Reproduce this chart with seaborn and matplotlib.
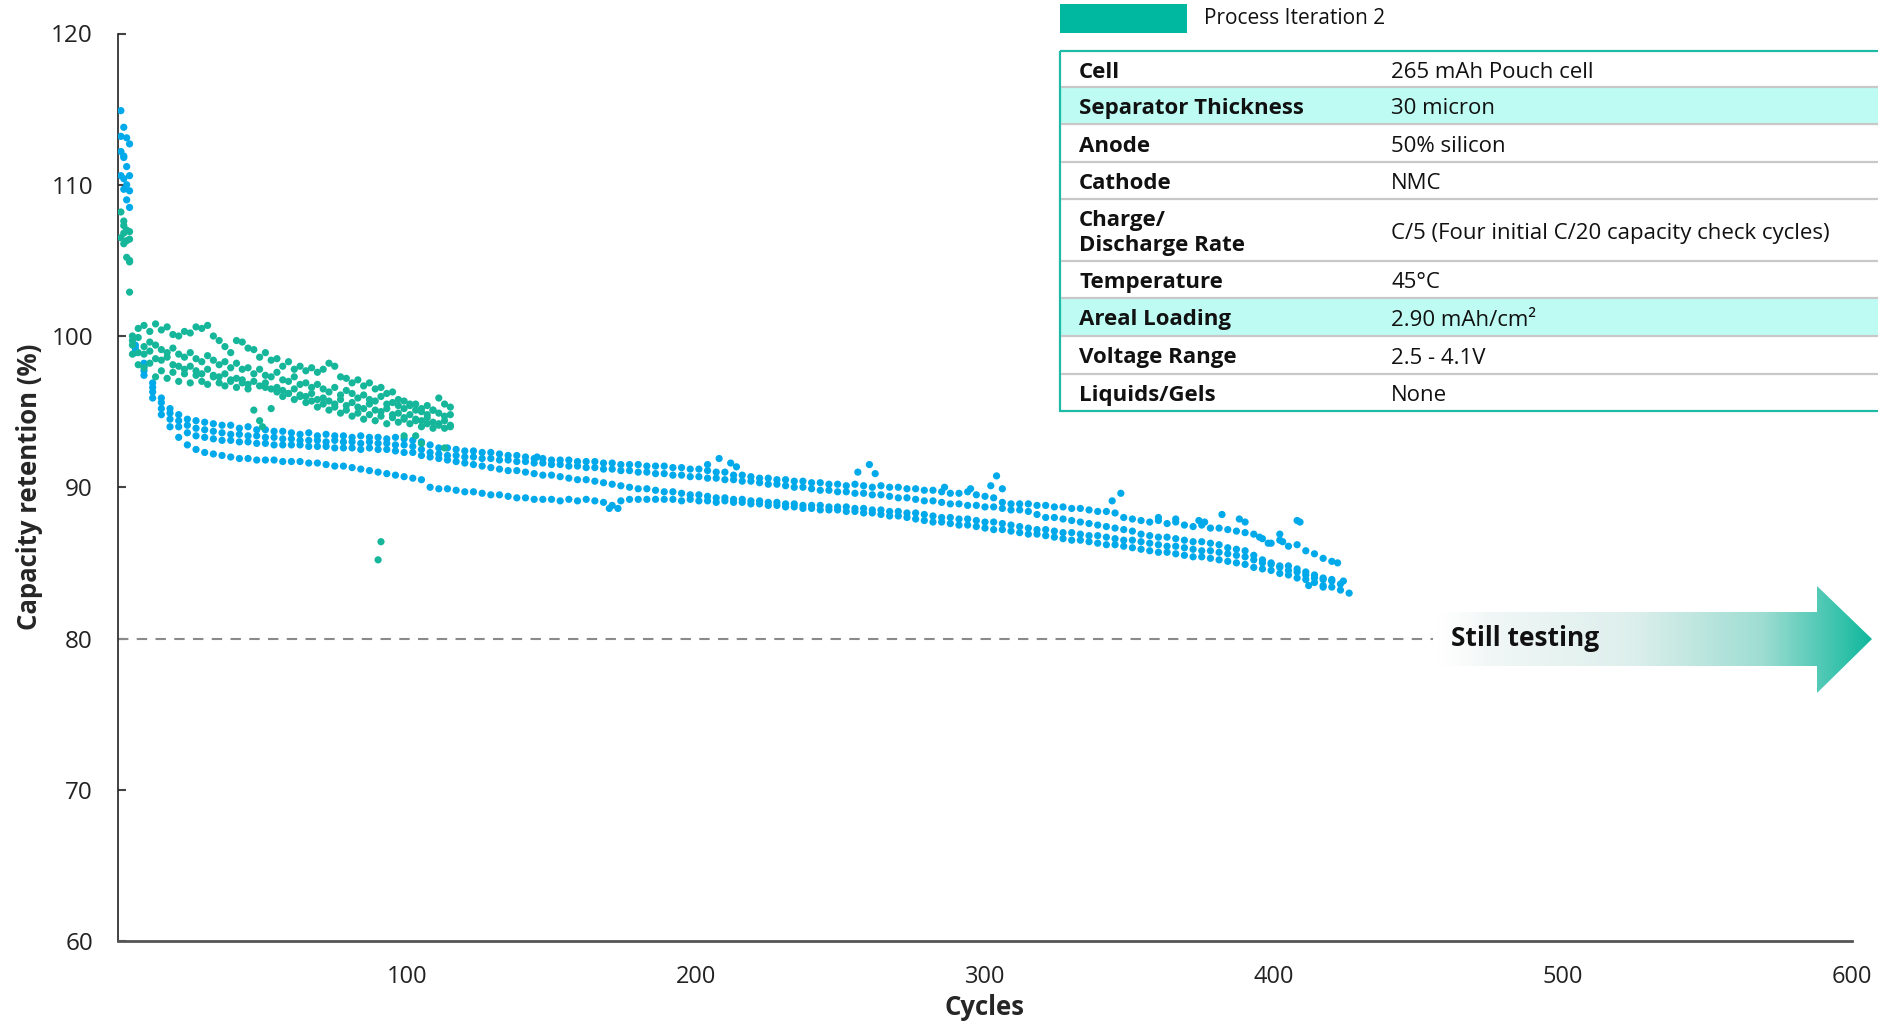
import numpy as np
import pandas as pd
import matplotlib
matplotlib.use("Agg")
import matplotlib.pyplot as plt
import seaborn as sns
from matplotlib.patches import Polygon, Rectangle
from matplotlib.colors import LinearSegmentedColormap

## colours
BLUE = '#00A9EA'
GREEN = '#16B69B'
TEAL = '#00B8A0'

## formation cycles (C/20 capacity checks)
blue_form_cycle = [1, 2, 1, 3, 4, 1, 2, 2, 3, 1, 2, 4, 3, 2, 4, 3, 4]
blue_form_value = [114.9, 113.8, 113.2, 113.1, 112.7, 112.2, 111.9, 111.8, 111.2,
                   110.6, 110.4, 110.6, 110.0, 109.7, 109.6, 109.0, 108.5]
green_form_cycle = [1, 2, 1, 2, 2, 3, 4, 2, 3, 4, 3, 4, 4, 4]
green_form_value = [108.2, 107.6, 106.5, 107.3, 106.8, 107.0, 106.9, 106.1, 106.3,
                    106.4, 105.2, 105.0, 104.9, 102.9]

## blue cells, read every 3 cycles starting at cycle 6
blue_a = [99.4, 98.2, 96.9, 95.9, 95.2, 94.8, 94.5, 94.4, 94.3,
          94.2, 94.1, 94.1, 93.9, 94.0, 93.8, 93.8, 93.7, 93.7, 93.6,
          93.5, 93.6, 93.4, 93.5, 93.4, 93.4, 93.3, 93.4, 93.3, 93.3,
          93.2, 93.3, 93.2, 93.1, 93.0, 92.8, 92.6, 92.6, 92.5, 92.4,
          92.4, 92.3, 92.3, 92.2, 92.1, 92.1, 92.0, 91.9, 91.9, 91.8,
          91.8, 91.8, 91.7, 91.7, 91.7, 91.6, 91.6, 91.5, 91.5, 91.5,
          91.4, 91.4, 91.4, 91.3, 91.3, 91.2, 91.2, 91.1, 91.0, 91.0,
          90.8, 90.8, 90.7, 90.6, 90.6, 90.5, 90.5, 90.4, 90.4, 90.3,
          90.3, 90.2, 90.2, 90.1, 90.2, 90.1, 90.0, 90.1, 90.0, 90.0,
          89.9, 89.9, 89.8, 89.8, 89.7, 89.6, 89.6, 89.7, 89.5, 89.4,
          89.3, 89.0, 88.9, 88.9, 88.9, 88.8, 88.8, 88.7, 88.7, 88.6,
          88.6, 88.5, 88.4, 88.4, 88.3, 88.0, 87.9, 87.8, 87.7, 87.8,
          87.6, 87.7, 87.5, 87.4, 87.5, 87.3, 87.3, 87.2, 87.1, 87.0,
          86.9, 86.6, 86.3, 86.5, 86.1, 86.2, 85.8, 85.6, 85.3]
blue_b = [99.2, 98.0, 96.6, 95.6, 94.9, 94.4, 94.1, 93.9, 93.8,
          93.7, 93.6, 93.5, 93.5, 93.4, 93.4, 93.3, 93.3, 93.2, 93.2,
          93.1, 93.1, 93.1, 93.0, 93.1, 93.0, 93.0, 92.9, 93.0, 92.9,
          92.9, 92.8, 92.8, 92.7, 92.5, 92.3, 92.2, 92.1, 92.1, 92.0,
          92.0, 91.9, 91.9, 91.8, 91.8, 91.7, 91.7, 91.6, 91.6, 91.5,
          91.5, 91.4, 91.4, 91.3, 91.3, 91.2, 91.2, 91.1, 91.1, 91.0,
          91.0, 90.9, 90.9, 90.8, 90.8, 90.7, 90.7, 90.6, 90.6, 90.5,
          90.5, 90.4, 90.4, 90.3, 90.2, 90.2, 90.1, 90.0, 90.0, 89.9,
          89.8, 89.8, 89.7, 89.7, 89.6, 89.6, 89.5, 89.5, 89.4, 89.3,
          89.3, 89.2, 89.1, 89.1, 89.0, 88.9, 88.9, 88.8, 88.8, 88.7,
          88.7, 88.6, 88.5, 88.5, 88.4, 88.2, 88.0, 88.0, 87.9, 87.8,
          87.7, 87.6, 87.5, 87.4, 87.3, 87.2, 87.1, 86.9, 86.8, 86.7,
          86.7, 86.6, 86.5, 86.4, 86.4, 86.3, 86.2, 86.0, 85.9, 85.8,
          85.5, 85.2, 85.0, 84.8, 84.8, 84.6, 84.4, 84.2, 84.0, 83.9]
blue_c = [99.0, 97.7, 96.3, 95.2, 94.5, 94.0, 93.6, 93.4, 93.3,
          93.2, 93.1, 93.1, 93.0, 93.0, 92.9, 92.9, 92.8, 92.8, 92.8,
          92.8, 92.7, 92.7, 92.7, 92.6, 92.6, 92.6, 92.5, 92.6, 92.5,
          92.5, 92.4, 92.3, 92.3, 92.1, 92.0, 91.9, 91.8, 91.7, 91.6,
          91.5, 91.4, 91.3, 91.2, 91.1, 91.1, 91.0, 90.9, 90.8, 90.8,
          90.7, 90.6, 90.5, 90.5, 90.4, 90.3, 90.2, 90.1, 90.0, 89.9,
          89.9, 89.8, 89.7, 89.7, 89.6, 89.5, 89.5, 89.4, 89.3, 89.3,
          89.2, 89.2, 89.1, 89.1, 89.0, 89.0, 88.9, 88.9, 88.8, 88.8,
          88.8, 88.7, 88.7, 88.7, 88.6, 88.6, 88.5, 88.5, 88.4, 88.4,
          88.3, 88.3, 88.2, 88.1, 88.0, 88.0, 87.9, 87.9, 87.8, 87.7,
          87.7, 87.6, 87.5, 87.4, 87.3, 87.2, 87.2, 87.1, 87.0, 87.0,
          86.9, 86.8, 86.8, 86.7, 86.6, 86.5, 86.5, 86.4, 86.3, 86.2,
          86.1, 86.1, 86.0, 85.9, 85.8, 85.8, 85.7, 85.6, 85.5, 85.4,
          85.2, 85.0, 84.9, 84.7, 84.5, 84.4, 84.2, 84.0, 83.9, 83.8, 83.6]
blue_d = [98.9, 97.4, 95.9, 94.8, 94.0, 93.3, 92.8, 92.5, 92.3,
          92.2, 92.1, 92.0, 91.9, 91.9, 91.8, 91.8, 91.8, 91.7, 91.7,
          91.7, 91.6, 91.6, 91.5, 91.4, 91.4, 91.3, 91.2, 91.1, 91.0,
          90.9, 90.8, 90.7, 90.6, 90.5, 90.0, 89.9, 89.9, 89.8, 89.7,
          89.7, 89.6, 89.5, 89.5, 89.4, 89.3, 89.3, 89.2, 89.2, 89.2,
          89.1, 89.2, 89.1, 89.2, 89.1, 89.0, 88.8, 89.1, 89.2, 89.2,
          89.2, 89.2, 89.2, 89.2, 89.1, 89.2, 89.1, 89.1, 89.0, 89.1,
          89.0, 89.0, 88.9, 88.9, 88.8, 88.8, 88.7, 88.7, 88.6, 88.6,
          88.5, 88.5, 88.5, 88.4, 88.4, 88.3, 88.3, 88.2, 88.1, 88.1,
          88.0, 87.9, 87.8, 87.7, 87.7, 87.6, 87.5, 87.5, 87.4, 87.3,
          87.2, 87.2, 87.1, 87.0, 86.9, 86.9, 86.8, 86.7, 86.6, 86.5,
          86.5, 86.4, 86.3, 86.2, 86.2, 86.1, 86.0, 85.9, 85.8, 85.7,
          85.7, 85.6, 85.5, 85.4, 85.4, 85.3, 85.2, 85.1, 85.0, 84.9,
          84.7, 84.6, 84.5, 84.3, 84.2, 84.0, 83.9, 83.7, 83.5, 83.4, 83.2, 83.0]

## noisy blue readings away from the main bands
blue_extra_cycle = [145, 170, 173, 204, 208, 212, 214, 256, 260, 262, 286, 295, 302, 304,
                    306, 344, 347, 360, 366, 374, 376, 382, 388, 390, 395, 398, 402, 403,
                    408, 409, 412, 417, 420, 422, 424]
blue_extra_value = [92.0, 88.6, 88.6, 91.5, 91.9, 91.6, 91.35, 91.0, 91.5, 90.9, 90.0, 89.9,
                    90.1, 90.75, 89.9, 89.1, 89.6, 88.0, 87.9, 87.8, 87.7, 88.2, 87.9, 87.7,
                    86.7, 86.3, 86.9, 86.4, 87.8, 87.7, 83.5, 83.4, 85.1, 85.0, 83.8]

## green cells (Process Iteration 2), read every 2 cycles starting at cycle 5
green_a = [100.0, 100.5, 100.7, 100.3, 100.8, 100.4, 100.6, 100.1, 100.0, 100.3,
           100.2, 100.6, 100.5, 100.7, 100.0, 99.7, 99.3, 98.9, 99.7, 99.6,
           99.2, 99.1, 98.6, 98.9, 98.4, 98.5, 98.0, 98.3, 97.8, 98.0,
           97.7, 97.9, 97.6, 97.8, 98.2, 98.0, 97.3, 97.2, 96.9, 97.1,
           96.7, 96.9, 96.5, 96.6, 96.2, 96.3, 95.8, 95.7, 95.4, 95.5,
           95.2, 95.4, 95.1, 95.9, 95.5, 95.3]
green_b = [99.7, 99.9, 99.3, 99.6, 99.4, 99.1, 98.9, 99.2, 98.8, 98.6,
           98.9, 98.5, 98.3, 98.7, 98.4, 98.1, 98.3, 97.9, 98.2, 97.8,
           97.9, 97.5, 97.8, 97.4, 97.3, 97.6, 97.1, 97.0, 97.3, 96.8,
           96.9, 96.6, 96.8, 96.5, 96.3, 96.6, 96.1, 96.4, 96.2, 95.9,
           96.1, 95.8, 95.7, 96.0, 95.5, 95.6, 95.4, 95.2, 95.5, 95.1,
           95.0, 94.8, 95.1, 94.9, 94.7, 94.8]
green_c = [99.4, 98.9, 98.8, 99.0, 98.5, 98.4, 98.6, 98.1, 98.0, 97.8,
           98.0, 97.7, 97.5, 97.8, 97.4, 97.3, 97.5, 97.0, 97.2, 97.1,
           96.8, 97.0, 96.7, 96.9, 96.5, 96.6, 96.4, 96.2, 96.5, 96.1,
           96.0, 96.2, 95.8, 95.9, 95.7, 95.5, 95.8, 95.4, 95.6, 95.3,
           95.2, 95.5, 95.1, 95.0, 95.2, 94.8, 94.9, 94.6, 94.8, 94.5,
           94.4, 94.6, 94.3, 94.2, 94.4, 94.1]
green_d = [98.8, 98.1, 97.9, 98.2, 97.3, 97.7, 97.2, 97.6, 97.0, 97.5,
           96.9, 97.4, 97.0, 96.8, 97.3, 96.9, 96.7, 97.1, 96.6, 96.9,
           96.5, 95.1, 94.4, 96.6, 95.2, 96.3, 96.0, 96.2, 95.8, 96.0,
           95.6, 95.7, 95.3, 95.5, 95.1, 95.3, 94.9, 95.1, 94.7, 94.9,
           94.5, 94.8, 94.4, 94.7, 94.2, 94.6, 94.3, 94.5, 94.2, 94.4,
           94.0, 94.2, 93.9, 94.1, 93.9, 94.0]
green_extra_cycle = [50, 90, 91, 99, 103, 105, 113]
green_extra_value = [94.0, 85.2, 86.4, 93.4, 93.4, 92.9, 92.6]

## table text
table_labels = ['Cell', 'Separator Thickness', 'Anode', 'Cathode', 'Charge/\nDischarge Rate',
                'Temperature', 'Areal Loading', 'Voltage Range', 'Liquids/Gels']
table_values = ['265 mAh Pouch cell', '30 micron', '50% silicon', 'NMC',
                'C/5 (Four initial C/20 capacity check cycles)', '45°C',
                '2.90 mAh/cm²', '2.5 - 4.1V', 'None']
table_highlight = ['Separator Thickness', 'Areal Loading']

threshold = 80
dash_end = 455


def frame(cycles, values, group):
    return pd.DataFrame({'cycle': cycles, 'retention': values, 'group': group})


parts = [frame(blue_form_cycle, blue_form_value, 'blue')]
for vals in [blue_a, blue_b, blue_c, blue_d]:
    parts.append(frame(list(range(6, 6 + 3 * len(vals), 3)), vals, 'blue'))
parts.append(frame(blue_extra_cycle, blue_extra_value, 'blue'))
parts.append(frame(green_form_cycle, green_form_value, 'green'))
for vals in [green_a, green_b, green_c, green_d]:
    parts.append(frame(list(range(5, 5 + 2 * len(vals), 2)), vals, 'green'))
parts.append(frame(green_extra_cycle, green_extra_value, 'green'))
df = pd.concat(parts, ignore_index=True)

sns.set_theme(style='white')
plt.rcParams['font.family'] = ['Open Sans', 'DejaVu Sans']

W, H = 1878, 1023
fig = plt.figure(figsize=(W / 100, H / 100), dpi=100)
ax = fig.add_axes([118 / W, (H - 941) / H, 1734 / W, 907.5 / H])

sns.scatterplot(data=df, x='cycle', y='retention', hue='group',
                palette={'blue': BLUE, 'green': GREEN}, s=27, linewidth=0,
                legend=False, ax=ax, zorder=3)

ax.plot([0, dash_end], [threshold, threshold], color='#8a8a8a', lw=1.5,
        dashes=(5, 4), zorder=2)

ax.set_xlim(0, 600)
ax.set_ylim(60, 120)
ax.set_xticks([100, 200, 300, 400, 500, 600])
ax.set_yticks(range(60, 121, 10))
ax.tick_params(axis='x', length=0, pad=17, labelsize=17, labelcolor='#222222')
ax.tick_params(axis='y', direction='in', length=6, width=1.5, color='#444444',
               pad=18, labelsize=17.5, labelcolor='#222222', left=True)
sns.despine(ax=ax)
ax.spines['left'].set_color('#222222')
ax.spines['left'].set_linewidth(1.2)
ax.spines['bottom'].set_color('#555555')
ax.spines['bottom'].set_linewidth(2)

ax.set_xlabel('Cycles', fontsize=18.5, fontweight='bold')
ax.set_ylabel('Capacity retention (%)', fontsize=18.5, fontweight='bold')
ax.xaxis.set_label_coords(0.5, -0.058)
ax.yaxis.set_label_coords(-0.043, 0.5)

## overlay in pixel coordinates for the table, legend and arrow
ov = fig.add_axes([0, 0, 1, 1], zorder=5)
ov.set_xlim(0, W)
ov.set_ylim(H, 0)
ov.axis('off')
ov.patch.set_alpha(0)

# legend
ov.add_patch(Rectangle((1060, 4), 127, 29, fc=TEAL, ec='none'))
ov.text(1204, 19, 'Process Iteration 2', fontsize=15, va='center', ha='left', color='#111111')

# table
edges = [51, 87, 124, 162, 199, 261, 298, 336, 374, 411]
for i, (lab, val) in enumerate(zip(table_labels, table_values)):
    y0, y1 = edges[i], edges[i + 1]
    if lab in table_highlight:
        ov.add_patch(Rectangle((1061, y0), W - 1061 + 5, y1 - y0, fc='#BDFBF3', ec='none'))
    mid = (y0 + y1) / 2 + 3
    ov.text(1079, mid, lab, fontsize=16, fontweight='bold', va='center', ha='left',
            color='#111111', linespacing=1.25)
    ov.text(1391, mid, val, fontsize=16, va='center', ha='left', color='#111111')
for y in edges[1:-1]:
    ov.plot([1061, W + 5], [y, y], color='#C8C8C8', lw=1.6, solid_capstyle='butt')
ov.add_patch(Rectangle((1060, 51), 900, 360, fill=False, ec='#1DBBA5', lw=1.6))

# still testing arrow
cy = 639
pts = [(1437, cy - 27), (1817, cy - 27), (1817, cy - 53), (1872, cy), (1817, cy + 54),
       (1817, cy + 27), (1437, cy + 27)]
poly = Polygon(pts, closed=True, fc='none', ec='none')
ov.add_patch(poly)
cmap = LinearSegmentedColormap.from_list('arrow', [(0, '#F8FAFA'), (0.45, '#DDEFEC'),
                                                    (0.75, '#9EDDD2'), (1, '#10B89D')])
ramp = np.linspace(0, 1, 400)
rgba = cmap(ramp)
rgba[:, 3] = np.clip(ramp / 0.12, 0, 1)
im = ov.imshow(rgba[None, :, :], extent=[1437, 1872, cy + 54, cy - 53], aspect='auto',
               interpolation='bilinear')
im.set_clip_path(poly)
ov.set_xlim(0, W)
ov.set_ylim(H, 0)
ov.text(1451, cy, 'Still testing', fontsize=19, fontweight='bold', va='center', ha='left',
        color='#111111')

fig.savefig('out.png', dpi=100)
